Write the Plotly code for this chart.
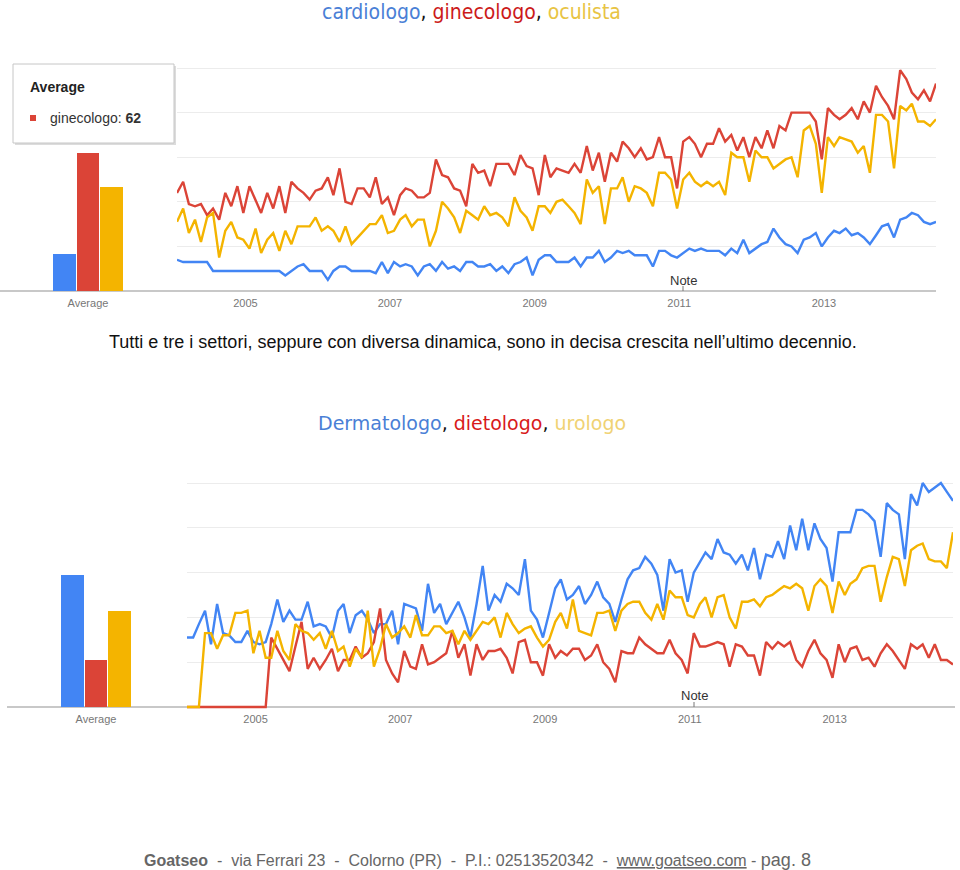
import pandas as pd
import plotly.graph_objects as go

W, H = 960, 870

BLU = "#4285f4"
ROSSO = "#db4437"
GIALLO = "#f4b400"

# --- grafico 1: cardiologo, ginecologo, oculista (Google Trends, 2004-2014)
MEDIE_TOP = [17, 62, 47]
CARDIOLOGO = [14, 13, 13, 13, 13, 13, 9, 9, 9, 9, 9, 9, 9, 9, 9, 9, 9, 9, 7, 9, 11, 12, 9, 9, 9, 5,
              9, 11, 11, 9, 9, 9, 9, 8, 13, 8, 13, 11, 12, 11, 7, 11, 12, 9, 13, 10, 11, 9, 13, 13,
              11, 11, 12, 9, 11, 8, 12, 13, 15, 7, 14, 16, 16, 13, 13, 13,
              15, 11, 15, 15, 18, 13, 15, 18, 17, 18, 16, 16, 16, 11, 18, 18, 16, 15, 17, 19,
              18, 19, 18, 18, 18, 16, 19, 17, 23, 17, 19, 21, 22, 28, 24, 21, 20, 17, 23, 24,
              26, 20, 24, 27, 26, 28, 25, 26, 24, 21, 25, 29, 30, 24, 32, 33, 35, 34, 31, 30, 31]
GINECOLOGO = [44, 49, 39, 38, 39, 34, 37, 32, 44, 38, 47, 35, 47, 41, 35, 44, 37, 47, 35, 49,
              46, 44, 41, 45, 46, 51, 43, 55, 40, 39, 46, 46, 42, 51, 39, 42, 34, 43, 46, 45,
              42, 42, 44, 59, 52, 51, 46, 45, 38, 57, 53, 54, 47, 57, 57, 57, 52, 61, 56, 55,
              43, 61, 51, 55, 54, 53,
              57, 53, 65, 54, 62, 49, 62, 58, 67, 64, 60, 64, 59, 60, 69, 60, 60, 46, 67, 69,
              66, 60, 66, 66, 73, 67, 70, 63, 69, 60, 69, 64, 72, 64, 74, 72, 80, 80, 80, 80,
              76, 59, 82, 79, 77, 79, 82, 77, 85, 80, 92, 87, 83, 77, 99, 95, 89, 86, 90, 85, 93]
OCULISTA = [31, 37, 26, 32, 22, 33, 35, 15, 27, 31, 24, 23, 19, 28, 17, 23, 26, 18, 27, 21,
            29, 29, 29, 33, 27, 29, 27, 22, 29, 21, 24, 27, 30, 30, 34, 26, 27, 32, 34, 29,
            32, 32, 20, 27, 40, 37, 33, 26, 36, 34, 32, 38, 34, 35, 33, 29, 42, 36, 33, 27,
            38, 38, 35, 40, 41, 38,
            35, 30, 50, 44, 47, 30, 46, 46, 51, 40, 47, 46, 44, 38, 53, 53, 50, 37, 50, 53,
            49, 47, 49, 47, 49, 43, 62, 60, 60, 49, 63, 60, 60, 55, 57, 59, 60, 51, 72, 74,
            66, 44, 69, 65, 69, 68, 67, 62, 65, 53, 79, 79, 76, 55, 83, 81, 84, 76, 76, 74, 77]

# --- grafico 2: Dermatologo, dietologo, urologo
MEDIE_BOTTOM = [59, 21, 43]
DERMATOLOGO = [31, 31, 37, 43, 28, 46, 33, 32, 29, 29, 34, 29, 28, 29, 37, 48, 38, 43, 39, 39,
               47, 36, 37, 36, 31, 43, 46, 33, 41, 43, 39, 33, 37, 37, 43, 28, 46, 45, 44, 34,
               55, 42, 46, 37, 42, 47, 40, 31, 46, 63, 43, 50, 47, 55, 53, 50, 66, 43, 39, 31,
               42, 53, 57, 48,
               50, 54, 46, 50, 56, 49, 46, 38, 48, 57, 61, 62, 67, 64, 59, 43, 66, 60, 61, 47,
               60, 65, 69, 66, 75, 69, 68, 64, 68, 61, 71, 57, 68, 67, 74, 66, 81, 70, 84, 70,
               82, 75, 71, 56, 78, 78, 78, 88, 88, 86, 83, 67, 91, 88, 86, 66, 95, 90, 100, 96,
               98, 100, 96, 92]
DIETOLOGO = [0, 0, 0, 0, 0, 0, 0, 0, 0, 0, 0, 0, 0, 0,
             31, 26, 21, 16, 27, 38, 17, 22, 17, 21, 26, 16, 21, 21, 27, 22, 24, 29, 44, 21,
             15, 11, 25, 18, 17, 28, 19, 20, 22, 24, 34, 22, 28, 14, 28, 21, 25, 25, 26, 22,
             15, 29, 30, 20, 20, 14, 28, 22, 25, 23,
             26, 26, 21, 23, 28, 20, 17, 11, 25, 24, 24, 31, 28, 26, 24, 24, 30, 24, 21, 15,
             33, 27, 27, 28, 29, 28, 18, 28, 27, 23, 23, 14, 29, 26, 29, 27, 29, 21, 18, 25,
             30, 24, 21, 13, 28, 20, 26, 27, 21, 22, 18, 24, 28, 25, 21, 17, 28, 26, 28, 22,
             28, 21, 21, 19]
UROLOGO = [0, 0, 0, 33, 33, 26, 32, 32, 42, 42, 43, 24, 34, 22, 22, 34, 25, 21, 37, 34,
           33, 30, 33, 26, 34, 25, 27, 18, 26, 22, 43, 18, 26, 37, 31, 33, 36, 31, 41, 32,
           32, 36, 36, 33, 34, 28, 34, 30, 34, 38, 37, 40, 31, 42, 37, 33, 35, 36, 31, 27,
           30, 38, 42, 35,
           48, 34, 33, 32, 42, 42, 43, 34, 43, 46, 47, 47, 42, 39, 46, 39, 52, 49, 49, 41,
           40, 46, 49, 40, 49, 50, 40, 35, 47, 47, 48, 45, 49, 50, 52, 54, 53, 55, 53, 43,
           54, 57, 54, 42, 56, 50, 55, 57, 62, 63, 63, 47, 58, 67, 66, 54, 70, 72, 73, 66,
           65, 65, 62, 78]

ANNI_TICK = ["2005", "2007", "2009", "2011", "2013"]
DATE_TICK = [f"{a}-01-01" for a in ANNI_TICK]

FONT_ARIAL = "Liberation Sans, Arial, sans-serif"


def px(x):
    return x / W


def py(y):
    return 1 - y / H


def testo(fig, x, y, html, size, color="#222", family=FONT_ARIAL, xanchor="center"):
    fig.add_annotation(x=px(x), y=py(y), xref="paper", yref="paper", text=html, showarrow=False,
                       xanchor=xanchor, yanchor="middle",
                       font=dict(size=size, color=color, family=family))


def pannello(fig, n, medie, serie, mesi, bar_x0, bar_x1, bar_c, line_x0, line_x1, y_base, y_top):
    """Pannello stile Google Trends: barre 'Average' + linee mensili.
    n = indice del primo asse (1 o 3)."""
    passo = 23.5
    xb, xl = f"x{'' if n == 1 else n}", f"x{n + 1}"
    yb, yl = f"y{'' if n == 1 else n}", f"y{n + 1}"
    unit = (y_base - y_top) / 100
    dom_y = [py(y_base + 2 * unit), py(y_top - 2 * unit)]

    fig.add_trace(go.Bar(x=[0, 1, 2], y=medie, marker=dict(color=[BLU, ROSSO, GIALLO], line_width=0),
                         width=0.95, xaxis=xb, yaxis=yb, showlegend=False, hoverinfo="skip"))
    for vals, col in zip(serie, (BLU, ROSSO, GIALLO)):
        fig.add_trace(go.Scatter(x=mesi, y=vals, mode="lines", line=dict(color=col, width=2.4),
                                 xaxis=xl, yaxis=yl, showlegend=False, hoverinfo="skip"))

    tickfont = dict(size=11, color="#777", family=FONT_ARIAL)
    key = lambda a: a.replace("x", "xaxis").replace("y", "yaxis")
    fig.update_layout({
        key(xb): dict(domain=[px(bar_x0), px(bar_x1)],
                      range=[1 - (bar_c - bar_x0) / passo, 1 + (bar_x1 - bar_c) / passo],
                      anchor=yb, tickvals=[1], ticktext=["Average"], tickfont=tickfont,
                      showgrid=False, zeroline=False, showline=False, ticks=""),
        key(yb): dict(domain=dom_y, range=[-2, 102], anchor=xb, visible=False),
        key(xl): dict(domain=[px(line_x0), px(line_x1)], range=[mesi[0], mesi[-1]], anchor=yl,
                      tickvals=DATE_TICK, ticktext=ANNI_TICK, tickfont=tickfont, ticklabelshift=-4,
                      showgrid=False, zeroline=False, showline=False, ticks=""),
        key(yl): dict(domain=dom_y, range=[-2, 102], anchor=xl, tickvals=[20, 40, 60, 80, 100],
                      showgrid=True, gridcolor="#ececec", gridwidth=1, showticklabels=False,
                      zeroline=False, showline=False, ticks=""),
    })


def main():
    fig = go.Figure()

    mesi_top = pd.date_range("2004-01-01", periods=len(GINECOLOGO), freq="MS")
    mesi_bot = pd.date_range("2004-01-01", periods=len(DERMATOLOGO), freq="MS")

    pannello(fig, 1, MEDIE_TOP, (CARDIOLOGO, GINECOLOGO, OCULISTA), mesi_top,
             0, 170, 88, 177, 936, 291, 68)
    pannello(fig, 3, MEDIE_BOTTOM, (DERMATOLOGO, DIETOLOGO, UROLOGO), mesi_bot,
             7, 180, 96, 187, 953, 707, 483)

    shapes = [
        # linee di base (sotto le serie, così si vedono le linee a zero)
        dict(type="line", xref="paper", yref="paper", x0=px(0), x1=px(936), y0=py(291), y1=py(291),
             line=dict(color="#c8c8c8", width=2), layer="below"),
        dict(type="line", xref="paper", yref="paper", x0=px(7), x1=px(955), y0=py(707), y1=py(707),
             line=dict(color="#c8c8c8", width=2), layer="below"),
        # tacche "Note"
        dict(type="line", xref="paper", yref="paper", x0=px(683), x1=px(683), y0=py(291), y1=py(286),
             line=dict(color="#777", width=1)),
        dict(type="line", xref="paper", yref="paper", x0=px(694), x1=px(694), y0=py(707), y1=py(702),
             line=dict(color="#777", width=1)),
        # riquadro tooltip "Average"
        dict(type="rect", xref="paper", yref="paper", x0=px(15), x1=px(176), y0=py(145), y1=py(66),
             line_width=0, fillcolor="#dcdcdc", layer="above"),
        dict(type="rect", xref="paper", yref="paper", x0=px(13), x1=px(174), y0=py(143), y1=py(64),
             line=dict(color="#c6c6c6", width=1), fillcolor="white", layer="above"),
        dict(type="rect", xref="paper", yref="paper", x0=px(30), x1=px(36), y0=py(121), y1=py(115),
             line_width=0, fillcolor=ROSSO, layer="above"),
    ]
    fig.update_layout(shapes=shapes)

    titolo_font = "DejaVu Sans Condensed, DejaVu Sans, sans-serif"
    testo(fig, 471, 12,
          '<span style="color:#4a7fd6">cardiologo</span>, <span style="color:#cc1a1a">ginecologo</span>, '
          '<span style="color:#e8c444">oculista</span>', 21, color="#111", family=titolo_font)
    testo(fig, 28, 87, "<b>Average</b>", 14, color="#222", xanchor="left")
    testo(fig, 48, 118, "ginecologo: <b>62</b>", 14, color="#333", xanchor="left")
    testo(fig, 683, 280, "Note", 13, color="#333")
    testo(fig, 694, 695, "Note", 13, color="#333")

    testo(fig, 483, 342,
          "Tutti e tre i settori, seppure con diversa dinamica, sono in decisa crescita "
          "nell\u2019ultimo decennio.", 18, color="#111")
    testo(fig, 472, 423,
          '<span style="color:#4a7fd6">Dermatologo</span>, <span style="color:#d81a1a">dietologo</span>, '
          '<span style="color:#f0d274">urologo</span>', 19, color="#111",
          family="DejaVu Sans, sans-serif")

    sp = "\u00a0\u00a0-\u00a0\u00a0"
    testo(fig, 477, 860,
          f"<b>Goatseo</b>{sp}via Ferrari 23{sp}Colorno (PR){sp}P.I.: 02513520342{sp}"
          "<u>www.goatseo.com</u>\u00a0-\u00a0<span style='font-size:18px'>pag. 8</span>",
          16, color="#666")

    fig.update_layout(width=W, height=H, margin=dict(l=0, r=0, t=0, b=0),
                      paper_bgcolor="white", plot_bgcolor="rgba(0,0,0,0)", bargap=0)
    # la pagina ha un margine di 8px sul body: lo azzero per allineare il grafico
    fig.write_html("out.html", config={"displayModeBar": False},
                   post_script="document.body.style.margin='0';document.body.style.overflow='hidden';")


if __name__ == "__main__":
    main()
